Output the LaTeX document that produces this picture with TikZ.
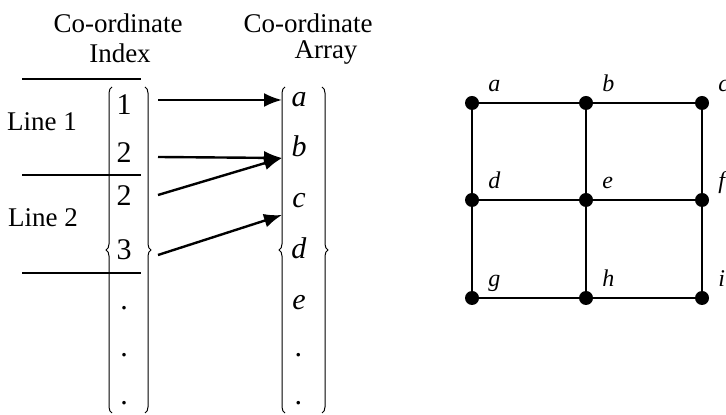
\documentclass[tikz,border=0pt]{standalone}
\usepackage{fontspec}
\setmainfont{Liberation Serif}
\usetikzlibrary{arrows.meta,decorations.pathreplacing}

\begin{document}
\begin{tikzpicture}[x=0.5pt, y=-0.5pt,
  lbl/.style={font=\fontsize{13.5}{15}\selectfont},
  entry/.style={font=\fontsize{15}{17}\selectfont, inner sep=0pt, anchor=base},
  grp/.style={line width=0.5pt, decorate, decoration={brace, amplitude=3pt}},
  arr/.style={line width=1.2pt, -{Latex[length=9pt,width=7pt]}},
  edge/.style={line width=0.8pt},
  vdot/.style={circle, fill, inner sep=0pt, minimum size=7pt},
  vlbl/.style={font=\fontsize{12}{14}\selectfont\itshape, inner sep=0pt, anchor=base west}]
\useasboundingbox (0,0) rectangle (726,415);
% titoli delle colonne
\node[lbl] (tidx) at (118,23) {Co-ordinate};
\node[lbl] (tidx2) at (120,53) {Index};
\node[lbl] (tarr) at (308,23) {Co-ordinate};
\node[lbl] (tarr2) at (326,53) {Array};
% linee
\node[lbl] (line1) at (42,122) {Line 1};
\node[lbl] (line2) at (43,218) {Line 2};
\draw[line width=0.6pt] (22,79) -- (141,79);
\draw[line width=0.6pt] (22,175) -- (141,175);
\draw[line width=0.6pt] (22,273) -- (141,273);
% indice delle coordinate
\foreach \t/\y [count=\k] in {1/115,2/163,2/206,3/260,./310,./357,./405}
  \node[entry] (i\k) at (124,\y) {\t};
\draw[grp] (112,413) -- (112,87);
\draw[grp] (145,87) -- (145,413);
% array delle coordinate
\foreach \t/\y [count=\k] in {a/107,b/157,c/208,d/259,e/310,./357,./405}
  \node[entry] (c\k) at (299,\y) {\textit{\t}};
\draw[grp] (285,413) -- (285,87);
\draw[grp] (322,87) -- (322,413);
% puntatori
\coordinate (s1) at (158,100);
\coordinate (s2) at (158,157);
\coordinate (s3) at (158,195);
\coordinate (s4) at (158,255);
\coordinate (e1) at (282,100);
\coordinate (e2) at (282,158);
\coordinate (e3) at (282,215);
\draw[arr] (s1) -- (e1);
\draw[arr] (s2) -- (e2);
\draw[arr] (s3) -- (e2);
\draw[arr] (s4) -- (e3);
% griglia 3x3
\foreach \n/\x/\y in {a/472/103,b/586/103,c/702/103,d/472/200,e/586/200,f/702/200,g/472/298,h/586/298,i/702/298} {
  \node[vdot] (v\n) at (\x,\y) {};
  \node[vlbl] (l\n) at (\x+16,\y-11) {\n};
}
\foreach \u/\w in {a/b,b/c,d/e,e/f,g/h,h/i,a/d,d/g,b/e,e/h,c/f,f/i}
  \draw[edge] (v\u) -- (v\w);
\end{tikzpicture}
\end{document}
